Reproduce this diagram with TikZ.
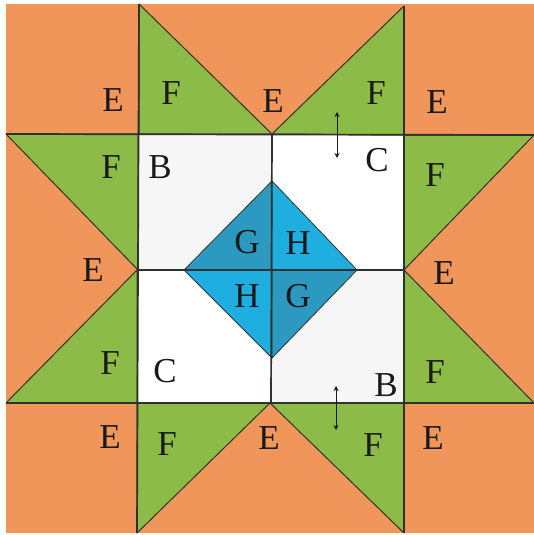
\documentclass[tikz,border=0pt]{standalone}
\usepackage{fontspec}
\setmainfont{Liberation Serif}
\definecolor{orangeE}{HTML}{F0965A}
\definecolor{greenF}{HTML}{8DBB47}
\definecolor{blueG}{HTML}{2C9AC0}
\definecolor{blueH}{HTML}{1FAEE0}
\definecolor{lineC}{HTML}{2E322C}
\definecolor{paperW}{HTML}{F6F6F6}
\tikzset{
  patchE/.style={fill=orangeE},
  patchF/.style={fill=greenF,draw=lineC,line width=1pt,line join=round},
  patchG/.style={fill=blueG,draw=lineC,line width=.8pt,line join=round},
  patchH/.style={fill=blueH,draw=lineC,line width=.8pt,line join=round},
  seam/.style={draw=lineC,line width=1.7pt},
  grain/.style={draw=black!90,line width=1pt,{Stealth[length=5pt,width=5pt]}-{Stealth[length=5pt,width=5pt]}},
  lab/.style={inner sep=0pt,text height=23pt,text depth=0pt,font=\fontsize{35}{35}\selectfont,text=black!90}
}
\usetikzlibrary{arrows.meta}
\begin{document}
\begin{tikzpicture}[x=1pt,y=-1pt]
\useasboundingbox (0,0) rectangle (534,535);
\fill[white] (0,0) rectangle (534,535);
% background
\fill[patchE] (6,4) rectangle (534,533);
% centre squares
\fill[paperW] (138,134) rectangle (272,270);
\fill[white] (272,134) rectangle (404,270);
\fill[white] (137,270) rectangle (272,403);
\fill[paperW] (272,270) rectangle (404,403);
% green triangles
\path[patchF] (139,4) -- (139,134) -- (272,134) -- cycle;
\path[patchF] (404,6) -- (404,135) -- (272,134) -- cycle;
\path[patchF] (6,134) -- (138,134) -- (138,270) -- cycle;
\path[patchF] (137,270) -- (137,403) -- (6,403) -- cycle;
\path[patchF] (534,135) -- (404,135) -- (404,270) -- cycle;
\path[patchF] (404,270) -- (404,403) -- (534,403) -- cycle;
\path[patchF] (137,403) -- (270,403) -- (137,533) -- cycle;
\path[patchF] (270,403) -- (404,403) -- (404,533) -- cycle;
% diamond
\path[patchG] (272,181) -- (184,270) -- (272,270) -- cycle;
\path[patchH] (272,181) -- (357,270) -- (272,270) -- cycle;
\path[patchH] (184,270) -- (272,358) -- (272,270) -- cycle;
\path[patchG] (357,270) -- (272,358) -- (272,270) -- cycle;
% seams
\coordinate (t1) at (139,4);
\coordinate (b1) at (137,533);
\coordinate (t2) at (272,134);
\coordinate (b2) at (271,403);
\coordinate (t3) at (404,6);
\coordinate (b3) at (404,533);
\coordinate (l1) at (6,134);
\coordinate (r1) at (534,135);
\coordinate (l2) at (137,270);
\coordinate (r2) at (404,270);
\coordinate (l3) at (6,403);
\coordinate (r3) at (534,403);
\path[seam] (t1) -- (b1);
\path[seam] (t2) -- (b2);
\path[seam] (t3) -- (b3);
\path[seam] (l1) -- (r1);
\path[seam] (l2) -- (r2);
\path[seam] (l3) -- (r3);
% grain arrows
\coordinate (a1) at (337,112);
\coordinate (a2) at (337,158);
\coordinate (a3) at (336,386);
\coordinate (a4) at (336,430);
\path[grain] (a1) -- (a2);
\path[grain] (a3) -- (a4);
% labels
\node[lab] (n1) at (113,100) {E};
\node[lab] (n2) at (171,93) {F};
\node[lab] (n3) at (273,101) {E};
\node[lab] (n4) at (376,93) {F};
\node[lab] (n5) at (437,102) {E};
\node[lab] (n6) at (111,167) {F};
\node[lab] (n7) at (160,167) {B};
\node[lab] (n8) at (377,160) {C};
\node[lab] (n9) at (435,175) {F};
\node[lab] (n10) at (93,270) {E};
\node[lab] (n11) at (247,242) {G};
\node[lab] (n12) at (298,243) {H};
\node[lab] (n13) at (444,273) {E};
\node[lab] (n14) at (247,296) {H};
\node[lab] (n15) at (298,296) {G};
\node[lab] (n16) at (110,363) {F};
\node[lab] (n17) at (165,371) {C};
\node[lab] (n18) at (386,385) {B};
\node[lab] (n19) at (435,372) {F};
\node[lab] (n20) at (110,437) {E};
\node[lab] (n21) at (167,444) {F};
\node[lab] (n22) at (269,438) {E};
\node[lab] (n23) at (373,445) {F};
\node[lab] (n24) at (433,438) {E};
\end{tikzpicture}
\end{document}
